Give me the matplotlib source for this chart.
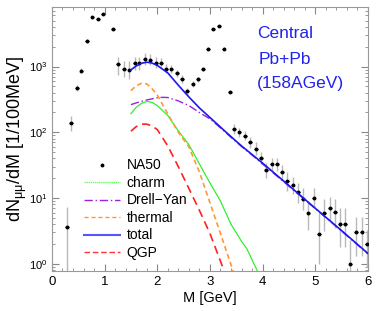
import matplotlib
matplotlib.use("Agg")
import matplotlib.pyplot as plt
import numpy as np
from matplotlib.ticker import MultipleLocator, LogLocator, NullFormatter, FixedLocator, FixedFormatter
from matplotlib.legend_handler import HandlerLine2D
from matplotlib.lines import Line2D

plt.rcParams['font.family'] = ['Liberation Sans', 'DejaVu Sans']
plt.rcParams['mathtext.fontset'] = 'custom'
plt.rcParams['mathtext.rm'] = 'Liberation Sans'
plt.rcParams['mathtext.it'] = 'Liberation Sans:italic'
plt.rcParams['mathtext.default'] = 'regular'

# NA50 data
m_data = [0.28, 0.36, 0.47, 0.56, 0.66, 0.77, 0.87, 0.97, 1.16, 1.26, 1.37, 1.47, 1.57, 1.66,
          1.76, 1.87, 1.97, 2.07, 2.17, 2.27, 2.37, 2.47, 2.57, 2.67, 2.77, 2.87, 2.97, 3.06,
          3.17, 3.26, 3.38, 3.46, 3.56, 3.66, 3.76, 3.87, 3.97, 4.07, 4.17, 4.27, 4.37, 4.47,
          4.57, 4.67, 4.77, 4.87, 4.97, 5.07, 5.17, 5.28, 5.37, 5.47, 5.57, 5.67, 5.78, 5.88, 5.98]
n_data = [3.6, 139, 471, 870, 2450, 5600, 5280, 6350, 3690, 1087, 923, 890, 1125, 1125,
          1295, 1260, 1150, 1150, 932, 913, 794, 644, 418, 541, 636, 913, 1875, 3766,
          4140, 1875, 409, 112.6, 100, 89, 70.5, 56, 41, 26.5, 32.4, 32.4, 24.8, 18.1,
          15.6, 12.2, 9.8, 5.9, 10.0, 2.85, 6.0, 7.0, 6.1, 4.0, 4.0, 1.01, 3.0, 3.0, 2.0]
n_lo = [0.3, 105, 420, 810, 2320, 5350, 5050, 6100, 3550, 750, 700, 640, 900, 900,
        1050, 1050, 950, 1000, 800, 800, 690, 560, 370, 480, 580, 850, 1800, 3650,
        4000, 1800, 390, 95, 85, 76, 58, 45, 33, 20, 26, 26, 19, 13,
        11.5, 8.5, 6.5, 3.3, 7, 1.0, 3.2, 4.5, 3.5, 1.8, 1.8, 0.5, 1.3, 1.3, 0.9]
n_hi = [7.3, 178, 530, 940, 2600, 5850, 5520, 6600, 3850, 1420, 1200, 1220, 1400, 1400,
        1600, 1550, 1400, 1350, 1080, 1050, 900, 740, 470, 600, 700, 980, 1950, 3900,
        4300, 1950, 430, 135, 118, 104, 85, 70, 51, 34, 40, 40, 32, 25,
        21, 17, 14, 9, 14, 6, 9.5, 10.5, 9.5, 7, 7, 2.3, 5.2, 5.2, 3.3]

# model curves
m_total = [1.5, 1.6, 1.7, 1.8, 1.9, 2.0, 2.2, 2.4, 2.6, 2.8, 3.0, 3.2, 3.4, 3.6, 3.8, 4.0, 4.5, 5.0, 5.5, 6.0]
total = [890, 1020, 1120, 1165, 1130, 1040, 800, 520, 345, 235, 168, 120, 86, 62, 46, 34, 15.5, 7.0, 3.2, 1.44]

m_dy = [1.5, 1.6, 1.8, 2.0, 2.1, 2.2, 2.4, 2.6, 2.8, 3.0, 3.2, 3.4, 3.6, 3.8, 4.0, 4.5, 5.0, 5.5, 6.0]
drell_yan = [263, 280, 310, 335, 340, 338, 300, 255, 200, 160, 117, 84, 61, 45, 33, 15.2, 6.9, 3.15, 1.42]

m_th = [1.5, 1.6, 1.7, 1.8, 1.9, 2.0, 2.2, 2.4, 2.6, 2.8, 3.0, 3.2, 3.44]
thermal = [430, 510, 555, 545, 460, 370, 190, 100, 60, 25, 8.5, 2.9, 0.78]

m_ch = [1.5, 1.6, 1.7, 1.8, 1.9, 2.0, 2.2, 2.4, 2.6, 2.8, 3.0, 3.2, 3.4, 3.6, 3.7, 3.9]
charm = [192, 240, 275, 295, 285, 255, 180, 105, 65, 33, 17, 9, 4.0, 2.2, 1.7, 0.78]

m_qgp = [1.5, 1.6, 1.7, 1.8, 1.9, 2.0, 2.2, 2.4, 2.6, 2.8, 3.0, 3.2, 3.27]
qgp = [104, 122, 133, 133, 125, 110, 62, 30, 14, 6.5, 2.9, 1.1, 0.78]

x_ticks = [0, 1, 2, 3, 4, 5, 6]
y_ticks = [1, 10, 100, 1000]
y_ticklabels = ['$10^{0}$', '$10^{1}$', '$10^{2}$', '$10^{3}$']


class RightMarkerHandler(HandlerLine2D):
    def get_xdata(self, legend, xdescent, ydescent, width, height, fontsize):
        xdata, _ = super().get_xdata(legend, xdescent, ydescent, width, height, fontsize)
        return xdata, [xdata[-1]]


fig = plt.figure(figsize=(3.82, 3.11), dpi=100)
ax = fig.add_axes([0.136, 0.129, 0.827, 0.848])

ax.set_yscale('log')
ax.set_xlim(0, 6)
ax.set_ylim(0.78, 8000)

md = np.array(m_data); nd = np.array(n_data)
yerr = [nd - np.array(n_lo), np.array(n_hi) - nd]
ax.errorbar(md, nd, yerr=yerr, fmt='none', ecolor='#b8b8b8', elinewidth=1.0, zorder=2)
ax.errorbar(md, nd, xerr=0.035, fmt='o', ms=1.8, color='black', ecolor='black', elinewidth=0.9, zorder=3)

ax.plot(m_ch, charm, color='#33ee33', lw=0.9, ls='-', zorder=4)
ax.plot(m_dy, drell_yan, color='#9a22dd', lw=1.0, ls=(0, (6, 2, 1, 2)), zorder=4)
ax.plot(m_th, thermal, color='#ff9933', lw=1.2, ls=(0, (3, 2)), zorder=4)
ax.plot(m_qgp, qgp, color='#ff2222', lw=1.2, ls=(0, (5, 3)), zorder=4)
ax.plot(m_total, total, color='#1a1aee', lw=1.2, ls='-', zorder=5)

# legend handles
h_na50 = Line2D([], [], ls='none', marker='o', ms=1.8, color='black')
handles = [
    h_na50,
    Line2D([], [], color='#66ff66', lw=1.0, ls=(0, (1, 0.5))),
    Line2D([], [], color='#9a22dd', lw=1.0, ls=(0, (6, 2, 1, 2))),
    Line2D([], [], color='#ff9933', lw=1.0, ls=(0, (3, 2))),
    Line2D([], [], color='#5555ff', lw=1.5),
    Line2D([], [], color='#ff3333', lw=1.0, ls=(0, (4, 2))),
]
labels = ['NA50', 'charm', 'Drell\u2212Yan', 'thermal', 'total', 'QGP']
leg = ax.legend(handles, labels, loc='lower left', bbox_to_anchor=(0.07, 0.005), frameon=False,
                fontsize=10, handlelength=2.6, handletextpad=0.5, labelspacing=0.25, borderpad=0.2,
                handler_map={h_na50: RightMarkerHandler(numpoints=1)})

ax.text(0.65, 0.90, 'Central', transform=ax.transAxes, color='#2222ee', fontsize=12.5, ha='left', va='center')
ax.text(0.655, 0.80, 'Pb+Pb', transform=ax.transAxes, color='#2222ee', fontsize=12.5, ha='left', va='center')
ax.text(0.65, 0.71, '(158AGeV)', transform=ax.transAxes, color='#2222ee', fontsize=12.5, ha='left', va='center')

ax.xaxis.set_major_locator(FixedLocator(x_ticks))
ax.xaxis.set_minor_locator(MultipleLocator(0.2))
ax.yaxis.set_major_locator(FixedLocator(y_ticks))
ax.yaxis.set_major_formatter(FixedFormatter(y_ticklabels))
ax.yaxis.set_minor_locator(LogLocator(base=10, subs=np.arange(2, 10), numticks=20))
ax.yaxis.set_minor_formatter(NullFormatter())

ax.tick_params(which='both', direction='in', top=True, right=True, color='#888888')
ax.tick_params(which='major', length=5, width=0.8)
ax.tick_params(which='minor', length=2.5, width=0.6)
ax.tick_params(axis='x', labelsize=9.5, pad=4)
ax.tick_params(axis='y', labelsize=8, pad=3)
for s in ax.spines.values():
    s.set_color('#999999')
    s.set_linewidth(0.8)

ax.set_xlabel('M [GeV]', fontsize=10.5, labelpad=2)
ax.set_ylabel('dN$_{\\mu\\mu}$/dM [1/100MeV]', fontsize=13, labelpad=0)

fig.savefig('out.png', dpi=100)
